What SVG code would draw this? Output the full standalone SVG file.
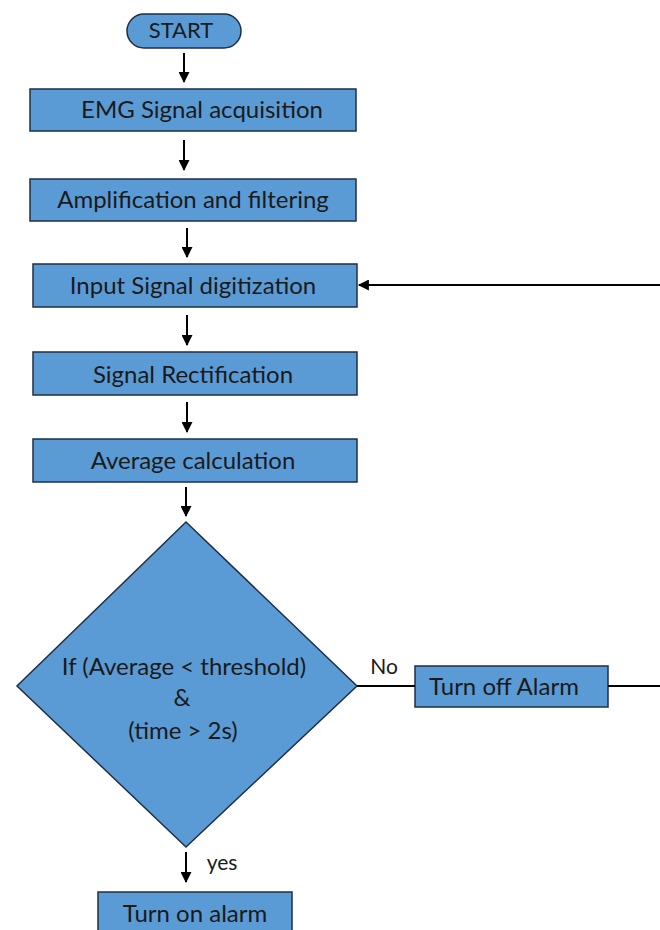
<svg xmlns="http://www.w3.org/2000/svg" width="660" height="930" viewBox="0 0 660 930">
<defs>
<marker id="ah" viewBox="0 0 10 10" refX="9" refY="5" markerWidth="6" markerHeight="5.5" orient="auto" markerUnits="strokeWidth">
<path d="M0,0 L10,5 L0,10 z" fill="#000"/>
</marker>
<style>
.n{fill:#5B9BD5;stroke:#1F2F45;stroke-width:1.5}
.t{font-family:Lato,"Open Sans","Liberation Sans",sans-serif;font-size:24px;fill:#1a1a1a;text-anchor:middle}
.c{stroke:#000;stroke-width:2;fill:none}
</style>
</defs>
<rect width="660" height="930" fill="#fff"/>
<g id="start"><rect class="n" x="127" y="14" width="114" height="34" rx="17"/><text class="t" x="181" y="38" style="font-size:22px">START</text></g>
<g id="emg"><rect class="n" x="30" y="89" width="326" height="42"/><text class="t" x="202" y="118">EMG Signal acquisition</text></g>
<g id="amp"><rect class="n" x="30" y="179" width="326" height="42"/><text class="t" x="193" y="208">Amplification and filtering</text></g>
<g id="input"><rect class="n" x="33" y="264" width="324" height="43"/><text class="t" x="193" y="294">Input Signal digitization</text></g>
<g id="rect"><rect class="n" x="33" y="352" width="324" height="43"/><text class="t" x="193" y="383">Signal Rectification</text></g>
<g id="avg"><rect class="n" x="33" y="439" width="324" height="43"/><text class="t" x="193" y="469">Average calculation</text></g>
<g id="decision"><polygon class="n" points="186,522 357,686 186,847 17,686"/>
<text class="t" x="184" y="675">If (Average &lt; threshold)</text>
<text class="t" x="182" y="706">&amp;</text>
<text class="t" x="183" y="739">(time &gt; 2s)</text></g>
<g id="off"><rect class="n" x="415" y="666" width="193" height="41"/><text class="t" x="504" y="695">Turn off Alarm</text></g>
<g id="on"><rect class="n" x="98" y="892" width="194" height="45"/><text class="t" x="195" y="922">Turn on alarm</text></g>
<g id="connectors">
<line class="c" x1="184" y1="53" x2="184" y2="82" marker-end="url(#ah)"/>
<line class="c" x1="184" y1="140" x2="184" y2="170" marker-end="url(#ah)"/>
<line class="c" x1="187" y1="228" x2="187" y2="257" marker-end="url(#ah)"/>
<line class="c" x1="187" y1="315" x2="187" y2="345" marker-end="url(#ah)"/>
<line class="c" x1="187" y1="402" x2="187" y2="432" marker-end="url(#ah)"/>
<line class="c" x1="186" y1="487" x2="186" y2="516" marker-end="url(#ah)"/>
<line class="c" x1="186" y1="852" x2="186" y2="882" marker-end="url(#ah)"/>
<line class="c" x1="357" y1="686" x2="415" y2="686"/>
<line class="c" x1="608" y1="686" x2="660" y2="686"/>
<line class="c" x1="660" y1="285" x2="359" y2="285" marker-end="url(#ah)"/>
<text class="t" x="384" y="674" style="font-size:21px">No</text>
<text class="t" x="222" y="870" style="font-size:21px">yes</text>
</g>
</svg>
